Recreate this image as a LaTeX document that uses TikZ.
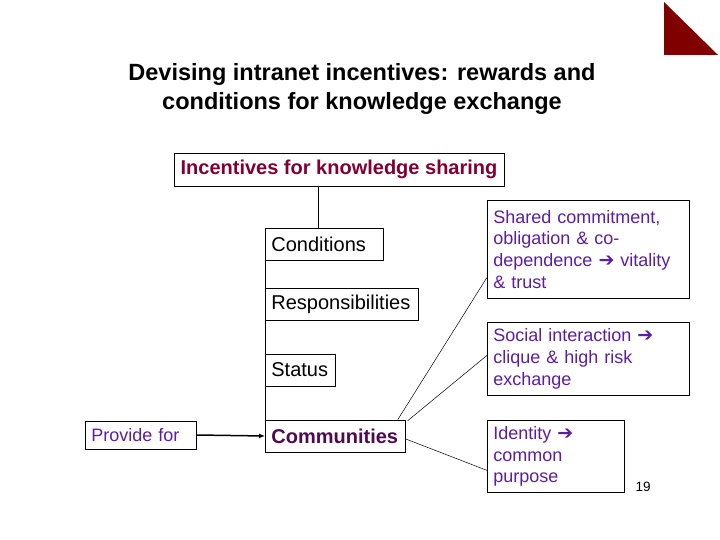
\documentclass[tikz,border=0pt]{standalone}
\usepackage{fontspec}
\setmainfont{Liberation Sans}
\newfontfamily\arrfont{DejaVu Sans}
\usetikzlibrary{arrows.meta}
\definecolor{incred}{HTML}{800033}
\definecolor{commpurple}{HTML}{4D0A52}
\definecolor{txtpurple}{HTML}{5A1EA0}
\definecolor{tri}{HTML}{800000}
\newcommand\myarrow{{\arrfont\bfseries\fontsize{19}{21}\selectfont ➔}}
\tikzset{
  box/.style={draw, line width=0.8pt, anchor=west, inner xsep=6pt, inner ysep=0pt, align=left,
    font=\fontsize{20}{22}\selectfont},
  pbox/.style={draw, line width=0.8pt, anchor=north west, inner xsep=6pt, inner ysep=4pt, align=left,
    text=txtpurple, font=\fontsize{18}{21.8}\selectfont},
  conn/.style={line width=0.5pt}
}
\begin{document}
\begin{tikzpicture}[x=1pt,y=-1pt]
\useasboundingbox (0,0) rectangle (720,540);
\fill[tri] (664,2) -- (664,55) -- (718,55) -- cycle;
\node[align=center, font=\bfseries\fontsize{23.5}{29}\selectfont] (title) at (362,89)
  {Devising intranet incentives: rewards and\\conditions for knowledge exchange};
\node[draw, line width=0.8pt, minimum width=330pt, minimum height=33pt, inner sep=0pt,
  text=incred, font=\bfseries\fontsize{20}{22}\selectfont] (inc) at (339,169.5) {Incentives for knowledge sharing};
\node[box, text width=106pt, minimum height=32pt] (cond) at (265,244) {Conditions};
\node[box, text width=141pt, minimum height=32pt] (resp) at (265,304) {Responsibilities};
\node[box, text width=58pt, minimum height=32pt] (stat) at (265,370) {Status};
\node[box, text width=128pt, minimum height=32pt, text=commpurple, font=\bfseries\fontsize{20}{22}\selectfont] (comm) at (265,436) {Communities};
\node[box, text width=99pt, minimum height=28pt, text=txtpurple, font=\fontsize{18}{21}\selectfont] (prov) at (85,435) {Provide for};
\node[pbox, text width=190pt, minimum height=98pt] (shared) at (487,200)
  {Shared commitment,\\obligation \& co-\\dependence \myarrow{} vitality\\\& trust};
\node[pbox, text width=190pt, minimum height=73pt] (social) at (487,322)
  {Social interaction \myarrow\\clique \& high risk\\exchange};
\node[pbox, text width=125pt, minimum height=72pt] (ident) at (487,420)
  {Identity \myarrow\\common\\purpose};
\node[font=\fontsize{13.5}{15}\selectfont, anchor=base west] (num) at (632,491) {19};
\draw[conn] ([xshift=-6pt]cond.north) -- ([xshift=-6pt]cond.north |- inc.south);
\draw[conn] (cond.south west) -- (comm.north west);
\draw[line width=1.5pt, -{Latex[length=6pt,width=5pt]}] (prov.east) -- (comm.west);
\draw[conn] ([xshift=-8pt]comm.north east) -- ([yshift=-28pt]shared.west);
\draw[conn] ([xshift=2pt,yshift=-1pt]comm.north east) -- ([yshift=3.5pt]social.west);
\draw[conn] ([yshift=-3pt]comm.east) -- ([yshift=-14pt]ident.west);
\end{tikzpicture}
\end{document}
